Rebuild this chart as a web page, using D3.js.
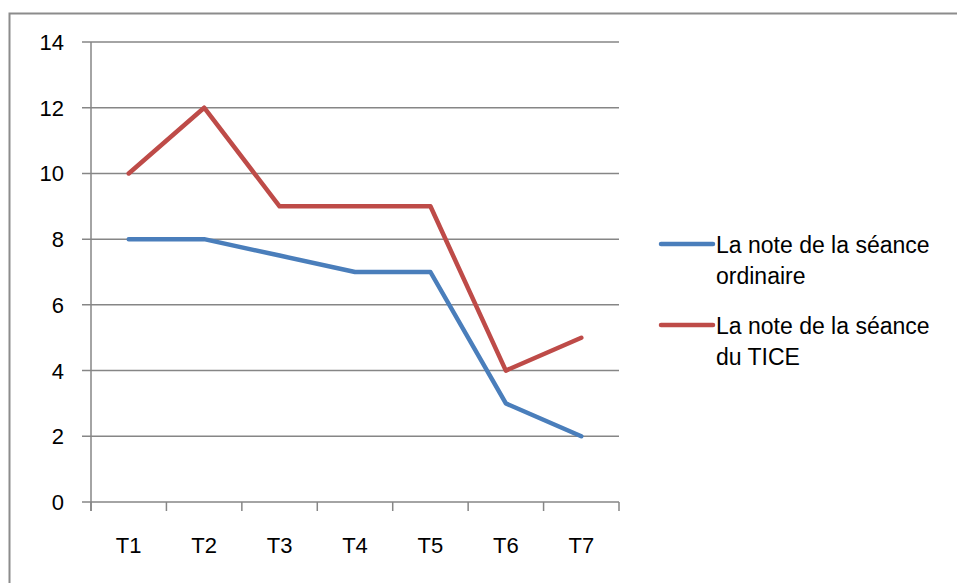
<!DOCTYPE html>
<html>
<head>
<meta charset="utf-8">
<script src="https://cdn.jsdelivr.net/npm/d3@7"></script>
<style>
    body { margin: 0; background: #fff; }
    svg { display: block; font-family: "Liberation Sans", Arial, sans-serif; }
</style>
</head>
<body>
<div id="chart"></div>
<script>
// data
var categories = ["T1", "T2", "T3", "T4", "T5", "T6", "T7"];
var ordinaire = [8, 8, 7.5, 7, 7, 3, 2];
var tice = [10, 12, 9, 9, 9, 4, 5];
var yTicks = [0, 2, 4, 6, 8, 10, 12, 14];
var seriesNames = [
    ["La note de la séance", "ordinaire"],
    ["La note de la séance", "du TICE"]
];
var seriesColors = ["#4a7ebb", "#be4b48"];

var width = 957, height = 583;
var plot = {left: 91, right: 619, top: 42, bottom: 502};

var svg = d3.select("#chart").append("svg")
    .attr("width", width)
    .attr("height", height);

// outer frame (runs off the right and bottom of the picture)
svg.append("rect")
    .attr("x", 9.5).attr("y", 13.5)
    .attr("width", 1000).attr("height", 1000)
    .attr("fill", "none")
    .attr("stroke", "#8c8c8c")
    .attr("stroke-width", 2);

var x = d3.scaleBand().domain(categories).range([plot.left, plot.right]);
var y = d3.scaleLinear().domain([0, 14]).range([plot.bottom, plot.top]);

// gridlines
svg.append("g").selectAll("line")
    .data(yTicks)
    .enter()
    .append("line")
    .attr("x1", plot.left - 9)
    .attr("x2", plot.right)
    .attr("y1", function (d) { return y(d); })
    .attr("y2", function (d) { return y(d); })
    .attr("stroke", "#868686")
    .attr("stroke-width", 1.5);

// y axis line
svg.append("line")
    .attr("x1", plot.left).attr("x2", plot.left)
    .attr("y1", plot.top).attr("y2", plot.bottom + 9)
    .attr("stroke", "#868686")
    .attr("stroke-width", 1.5);

// y labels
svg.append("g").selectAll("text")
    .data(yTicks)
    .enter()
    .append("text")
    .attr("x", 64)
    .attr("y", function (d) { return y(d) + 8; })
    .attr("text-anchor", "end")
    .attr("font-size", "22px")
    .attr("fill", "#000")
    .text(function (d) { return d; });

// x ticks between categories
var xTickPos = categories.map(function (c) { return x(c); }).concat([plot.right]);
svg.append("g").selectAll("line")
    .data(xTickPos)
    .enter()
    .append("line")
    .attr("x1", function (d) { return d; })
    .attr("x2", function (d) { return d; })
    .attr("y1", plot.bottom)
    .attr("y2", plot.bottom + 9)
    .attr("stroke", "#868686")
    .attr("stroke-width", 1.5);

// x labels
svg.append("g").selectAll("text")
    .data(categories)
    .enter()
    .append("text")
    .attr("x", function (d) { return x(d) + x.bandwidth() / 2; })
    .attr("y", 553)
    .attr("text-anchor", "middle")
    .attr("font-size", "22px")
    .attr("fill", "#000")
    .text(function (d) { return d; });

// lines
var line = d3.line()
    .x(function (d, i) { return x(categories[i]) + x.bandwidth() / 2; })
    .y(function (d) { return y(d); });

[ordinaire, tice].forEach(function (s, i) {
    svg.append("path")
        .datum(s)
        .attr("d", line)
        .attr("fill", "none")
        .attr("stroke", seriesColors[i])
        .attr("stroke-width", 4.5)
        .attr("stroke-linejoin", "round")
        .attr("stroke-linecap", "round");
});

// legend
var legendY = [244, 325];
seriesNames.forEach(function (name, i) {
    var g = svg.append("g");
    g.append("line")
        .attr("x1", 661).attr("x2", 713)
        .attr("y1", legendY[i]).attr("y2", legendY[i])
        .attr("stroke", seriesColors[i])
        .attr("stroke-width", 4.5)
        .attr("stroke-linecap", "round");
    name.forEach(function (t, j) {
        g.append("text")
            .attr("x", 716)
            .attr("y", legendY[i] + 9 + j * 31)
            .attr("font-size", "23px")
            .attr("fill", "#000")
            .text(t);
    });
});
</script>
</body>
</html>
